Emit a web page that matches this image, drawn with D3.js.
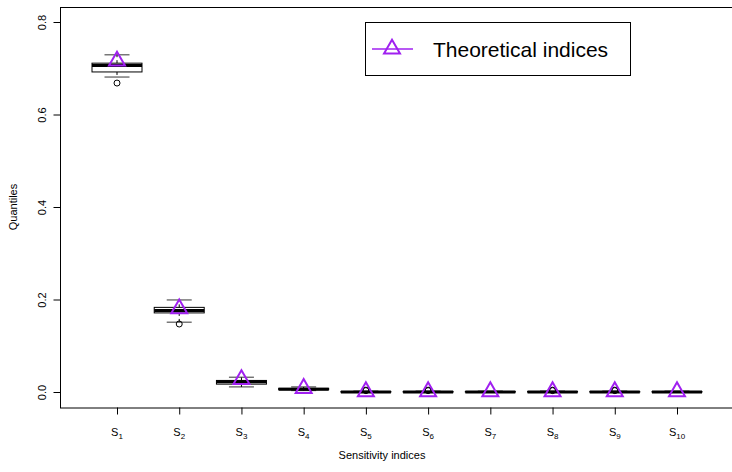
<!DOCTYPE html>
<html>
<head>
<meta charset="utf-8">
<script src="https://cdn.jsdelivr.net/npm/d3@7"></script>
<style>
  body { margin: 0; background: #fff; }
  svg { font-family: "Liberation Sans", Arial, sans-serif; }
</style>
</head>
<body>
<div id="chart"></div>
<script>
// boxplot stats per index
const idx = ["1", "2", "3", "4", "5", "6", "7", "8", "9", "10"];
const whiskLo = [0.681, 0.151, 0.011, 0.003, -0.001, -0.001, -0.001, -0.001, -0.001, -0.001];
const q1 = [0.692, 0.171, 0.017, 0.005, 0.000, 0.000, 0.000, 0.000, 0.000, 0.000];
const med = [0.706, 0.176, 0.022, 0.006, 0.000, 0.000, 0.000, 0.000, 0.000, 0.000];
const q3 = [0.711, 0.183, 0.025, 0.008, 0.001, 0.001, 0.001, 0.001, 0.001, 0.001];
const whiskHi = [0.729, 0.199, 0.032, 0.011, 0.002, 0.002, 0.002, 0.002, 0.002, 0.002];
const outliers = [[0.668], [0.147], [], [], [0.003, 0.004], [0.003, 0.004], [], [0.003, 0.004], [0.003, 0.004], []];
const theory = [0.716, 0.180, 0.027, 0.008, 0.001, 0.001, 0.001, 0.001, 0.001, 0.001];
const yTicks = [0, 0.2, 0.4, 0.6, 0.8];

const W = 732, H = 472;
const purple = "#A020F0";

const svg = d3.select("#chart").append("svg")
  .attr("width", W).attr("height", H);

const x = d3.scaleLinear().domain([1, 10]).range([117, 677]);
const y = d3.scaleLinear().domain([0, 0.8]).range([392, 22]);
const bw = 50; // box width in px (0.8 of a slot)

// plot frame
svg.append("rect")
  .attr("x", 60.5).attr("y", 7.5)
  .attr("width", 700).attr("height", 400.5)
  .attr("fill", "none").attr("stroke", "#000").attr("stroke-width", 1);

// y axis
const yAxis = svg.append("g")
  .attr("transform", "translate(60.5,0)")
  .call(d3.axisLeft(y).tickValues(yTicks).tickFormat(d3.format(".1f")).tickSize(7).tickPadding(0));
yAxis.select(".domain").attr("d", `M0,${y(0)}V${y(0.8)}`);
yAxis.selectAll("text")
  .attr("font-size", 11).attr("font-family", "Liberation Sans, Arial, sans-serif")
  .attr("fill", "#000")
  .attr("text-anchor", "middle")
  .attr("dy", null)
  .attr("transform", d => `translate(-19,${y(d)}) rotate(-90)`)
  .attr("x", 0).attr("y", 0)
  .attr("dominant-baseline", "central");
// remove the automatic translate on tick groups for text only
yAxis.selectAll(".tick").each(function (d) {
  d3.select(this).select("text").attr("transform", `translate(-19,0) rotate(-90)`);
});

// x axis
const xAxis = svg.append("g")
  .attr("transform", "translate(0,407.5)")
  .call(d3.axisBottom(x).tickValues(d3.range(1, 11)).tickSize(7).tickFormat(""));
xAxis.select(".domain").remove();

// x tick labels S with subscript
const xl = svg.append("g").selectAll("text")
  .data(idx).enter().append("text")
  .attr("x", (d, i) => x(i + 1))
  .attr("y", 436)
  .attr("text-anchor", "middle")
  .attr("font-size", 11)
  .attr("fill", "#000");
xl.append("tspan").text("S");
xl.append("tspan").attr("font-size", 8).attr("dy", 3).text(d => d);

// axis titles
svg.append("text")
  .attr("x", 382).attr("y", 459)
  .attr("text-anchor", "middle").attr("font-size", 11)
  .text("Sensitivity indices");
svg.append("text")
  .attr("transform", "translate(17,207) rotate(-90)")
  .attr("text-anchor", "middle").attr("font-size", 11)
  .text("Quantiles");

// boxes
const boxes = svg.append("g").selectAll("g")
  .data(idx).enter().append("g");

boxes.each(function (d, i) {
  const g = d3.select(this);
  const cx = x(i + 1);
  // whiskers (dashed)
  g.append("line").attr("x1", cx).attr("x2", cx)
    .attr("y1", y(q3[i])).attr("y2", y(whiskHi[i]))
    .attr("stroke", "#000").attr("stroke-dasharray", "3,3");
  g.append("line").attr("x1", cx).attr("x2", cx)
    .attr("y1", y(q1[i])).attr("y2", y(whiskLo[i]))
    .attr("stroke", "#000").attr("stroke-dasharray", "3,3");
  // staples
  [whiskHi[i], whiskLo[i]].forEach(v => {
    g.append("line").attr("x1", cx - bw / 4).attr("x2", cx + bw / 4)
      .attr("y1", y(v)).attr("y2", y(v))
      .attr("stroke", "#000").attr("stroke-width", 0.8);
  });
  // box
  g.append("rect")
    .attr("x", cx - bw / 2).attr("width", bw)
    .attr("y", y(q3[i])).attr("height", Math.max(0.5, y(q1[i]) - y(q3[i])))
    .attr("fill", "#fff").attr("stroke", "#000").attr("stroke-width", 1);
  // median
  g.append("line").attr("x1", cx - bw / 2).attr("x2", cx + bw / 2)
    .attr("y1", y(med[i])).attr("y2", y(med[i]))
    .attr("stroke", "#000").attr("stroke-width", 3);
  // outliers
  outliers[i].forEach(v => {
    g.append("circle").attr("cx", cx).attr("cy", y(v)).attr("r", 3)
      .attr("fill", "none").attr("stroke", "#000").attr("stroke-width", 1);
  });
});

// theoretical triangles
const tri = d3.symbol().type(d3.symbolTriangle).size(110);
svg.append("g").selectAll("path")
  .data(theory).enter().append("path")
  .attr("d", tri)
  .attr("transform", (d, i) => `translate(${x(i + 1)},${y(d)})`)
  .attr("fill", "none").attr("stroke", purple).attr("stroke-width", 2);

// legend
const lg = svg.append("g");
lg.append("rect")
  .attr("x", 365.5).attr("y", 22.5).attr("width", 265).attr("height", 53)
  .attr("fill", "#fff").attr("stroke", "#000").attr("stroke-width", 1);
lg.append("line")
  .attr("x1", 372).attr("x2", 413).attr("y1", 49).attr("y2", 49)
  .attr("stroke", purple).attr("stroke-width", 1.5);
lg.append("path").attr("d", tri)
  .attr("transform", "translate(392,49)")
  .attr("fill", "none").attr("stroke", purple).attr("stroke-width", 2);
lg.append("text")
  .attr("x", 433).attr("y", 57)
  .attr("font-size", 21).attr("fill", "#000")
  .text("Theoretical indices");
</script>
</body>
</html>
